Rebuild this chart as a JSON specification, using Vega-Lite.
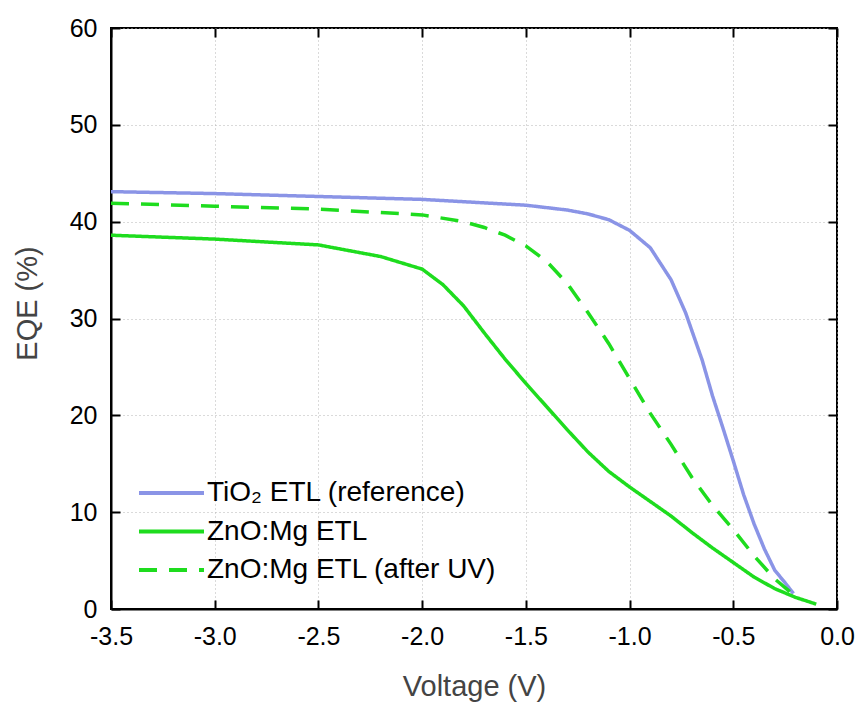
{
  "$schema": "https://vega.github.io/schema/vega-lite/v6.json",
  "width": 726,
  "height": 581,
  "autosize": {"type": "none"},
  "padding": {"left": 111, "top": 28, "right": 22, "bottom": 93},
  "background": "white",
  "config": {
    "font": "Liberation Sans",
    "view": {"stroke": "black", "strokeWidth": 2},
    "axis": {
      "domainColor": "black",
      "domainWidth": 2,
      "tickColor": "black",
      "tickWidth": 2,
      "tickSize": 9,
      "labelColor": "black",
      "labelFont": "Liberation Sans",
      "labelFontSize": 25,
      "titleFont": "Liberation Sans",
      "titleFontSize": 29,
      "titleFontWeight": "normal",
      "titleColor": "#444444",
      "gridColor": "#b5b5b5",
      "gridDash": [1, 3],
      "gridWidth": 1
    }
  },
  "data": {
    "values": [
      {"series": "TiO₂ ETL (reference)", "voltage": -3.5, "eqe": 43.1},
      {"series": "TiO₂ ETL (reference)", "voltage": -3.0, "eqe": 42.9},
      {"series": "TiO₂ ETL (reference)", "voltage": -2.5, "eqe": 42.6},
      {"series": "TiO₂ ETL (reference)", "voltage": -2.0, "eqe": 42.3},
      {"series": "TiO₂ ETL (reference)", "voltage": -1.5, "eqe": 41.7},
      {"series": "TiO₂ ETL (reference)", "voltage": -1.3, "eqe": 41.2},
      {"series": "TiO₂ ETL (reference)", "voltage": -1.2, "eqe": 40.8},
      {"series": "TiO₂ ETL (reference)", "voltage": -1.1, "eqe": 40.2},
      {"series": "TiO₂ ETL (reference)", "voltage": -1.0, "eqe": 39.1},
      {"series": "TiO₂ ETL (reference)", "voltage": -0.9, "eqe": 37.3},
      {"series": "TiO₂ ETL (reference)", "voltage": -0.8, "eqe": 34.0},
      {"series": "TiO₂ ETL (reference)", "voltage": -0.73, "eqe": 30.6},
      {"series": "TiO₂ ETL (reference)", "voltage": -0.65, "eqe": 25.7},
      {"series": "TiO₂ ETL (reference)", "voltage": -0.6, "eqe": 22.0},
      {"series": "TiO₂ ETL (reference)", "voltage": -0.55, "eqe": 18.7},
      {"series": "TiO₂ ETL (reference)", "voltage": -0.5, "eqe": 15.3},
      {"series": "TiO₂ ETL (reference)", "voltage": -0.45, "eqe": 11.8},
      {"series": "TiO₂ ETL (reference)", "voltage": -0.4, "eqe": 8.8},
      {"series": "TiO₂ ETL (reference)", "voltage": -0.35, "eqe": 6.2},
      {"series": "TiO₂ ETL (reference)", "voltage": -0.3, "eqe": 4.0},
      {"series": "TiO₂ ETL (reference)", "voltage": -0.25, "eqe": 2.7},
      {"series": "TiO₂ ETL (reference)", "voltage": -0.21, "eqe": 1.6},
      {"series": "ZnO:Mg ETL", "voltage": -3.5, "eqe": 38.6},
      {"series": "ZnO:Mg ETL", "voltage": -3.0, "eqe": 38.2},
      {"series": "ZnO:Mg ETL", "voltage": -2.5, "eqe": 37.6},
      {"series": "ZnO:Mg ETL", "voltage": -2.2, "eqe": 36.4},
      {"series": "ZnO:Mg ETL", "voltage": -2.0, "eqe": 35.1},
      {"series": "ZnO:Mg ETL", "voltage": -1.9, "eqe": 33.5},
      {"series": "ZnO:Mg ETL", "voltage": -1.8, "eqe": 31.3},
      {"series": "ZnO:Mg ETL", "voltage": -1.7, "eqe": 28.5},
      {"series": "ZnO:Mg ETL", "voltage": -1.6, "eqe": 25.8},
      {"series": "ZnO:Mg ETL", "voltage": -1.5, "eqe": 23.3},
      {"series": "ZnO:Mg ETL", "voltage": -1.4, "eqe": 20.9},
      {"series": "ZnO:Mg ETL", "voltage": -1.3, "eqe": 18.5},
      {"series": "ZnO:Mg ETL", "voltage": -1.2, "eqe": 16.2},
      {"series": "ZnO:Mg ETL", "voltage": -1.1, "eqe": 14.2},
      {"series": "ZnO:Mg ETL", "voltage": -1.0, "eqe": 12.6},
      {"series": "ZnO:Mg ETL", "voltage": -0.9, "eqe": 11.1},
      {"series": "ZnO:Mg ETL", "voltage": -0.8, "eqe": 9.6},
      {"series": "ZnO:Mg ETL", "voltage": -0.7, "eqe": 7.9},
      {"series": "ZnO:Mg ETL", "voltage": -0.6, "eqe": 6.3},
      {"series": "ZnO:Mg ETL", "voltage": -0.5, "eqe": 4.8},
      {"series": "ZnO:Mg ETL", "voltage": -0.4, "eqe": 3.3},
      {"series": "ZnO:Mg ETL", "voltage": -0.3, "eqe": 2.1},
      {"series": "ZnO:Mg ETL", "voltage": -0.2, "eqe": 1.2},
      {"series": "ZnO:Mg ETL", "voltage": -0.1, "eqe": 0.5},
      {"series": "ZnO:Mg ETL (after UV)", "voltage": -3.5, "eqe": 41.9},
      {"series": "ZnO:Mg ETL (after UV)", "voltage": -3.0, "eqe": 41.6},
      {"series": "ZnO:Mg ETL (after UV)", "voltage": -2.5, "eqe": 41.3},
      {"series": "ZnO:Mg ETL (after UV)", "voltage": -2.0, "eqe": 40.7},
      {"series": "ZnO:Mg ETL (after UV)", "voltage": -1.8, "eqe": 40.0},
      {"series": "ZnO:Mg ETL (after UV)", "voltage": -1.7, "eqe": 39.4},
      {"series": "ZnO:Mg ETL (after UV)", "voltage": -1.6, "eqe": 38.6},
      {"series": "ZnO:Mg ETL (after UV)", "voltage": -1.5, "eqe": 37.5},
      {"series": "ZnO:Mg ETL (after UV)", "voltage": -1.4, "eqe": 35.9},
      {"series": "ZnO:Mg ETL (after UV)", "voltage": -1.3, "eqe": 33.6},
      {"series": "ZnO:Mg ETL (after UV)", "voltage": -1.2, "eqe": 30.6},
      {"series": "ZnO:Mg ETL (after UV)", "voltage": -1.1, "eqe": 27.4},
      {"series": "ZnO:Mg ETL (after UV)", "voltage": -1.0, "eqe": 23.8},
      {"series": "ZnO:Mg ETL (after UV)", "voltage": -0.9, "eqe": 20.2},
      {"series": "ZnO:Mg ETL (after UV)", "voltage": -0.8, "eqe": 17.0},
      {"series": "ZnO:Mg ETL (after UV)", "voltage": -0.7, "eqe": 13.6},
      {"series": "ZnO:Mg ETL (after UV)", "voltage": -0.6, "eqe": 10.7},
      {"series": "ZnO:Mg ETL (after UV)", "voltage": -0.5, "eqe": 8.2},
      {"series": "ZnO:Mg ETL (after UV)", "voltage": -0.4, "eqe": 5.5},
      {"series": "ZnO:Mg ETL (after UV)", "voltage": -0.3, "eqe": 3.1},
      {"series": "ZnO:Mg ETL (after UV)", "voltage": -0.2, "eqe": 1.3}
    ]
  },
  "layer": [
    {
      "mark": {"type": "line", "strokeWidth": 3.5, "strokeCap": "butt"},
      "encoding": {
        "x": {
          "field": "voltage",
          "type": "quantitative",
          "scale": {"domain": [-3.5, 0], "nice": false, "zero": false},
          "axis": {
            "orient": "bottom",
            "title": "Voltage (V)",
            "values": [-3.5, -3.0, -2.5, -2.0, -1.5, -1.0, -0.5, 0],
            "labelExpr": "datum.value < 0 ? '-' + format(-datum.value, '.1f') : format(datum.value, '.1f')",
            "labelFlush": false,
            "labelOverlap": false,
            "ticks": false,
            "labelPadding": 15,
            "grid": true,
            "titleY": 86,
            "titleBaseline": "alphabetic"
          }
        },
        "y": {
          "field": "eqe",
          "type": "quantitative",
          "scale": {"domain": [0, 60], "nice": false},
          "axis": {
            "orient": "left",
            "title": "EQE (%)",
            "values": [0, 10, 20, 30, 40, 50, 60],
            "ticks": false,
            "labelPadding": 14,
            "labelFlush": false,
            "grid": true,
            "titleX": -84,
            "titleY": 275,
            "titleAngle": -90,
            "titleAlign": "center",
            "titleBaseline": "middle"
          }
        },
        "color": {
          "field": "series",
          "type": "nominal",
          "scale": {
            "domain": ["TiO₂ ETL (reference)", "ZnO:Mg ETL", "ZnO:Mg ETL (after UV)"],
            "range": ["#8a94e6", "#1edc1e", "#1edc1e"]
          },
          "legend": {
            "title": null,
            "orient": "none",
            "legendX": 26,
            "legendY": 450,
            "padding": 0,
            "symbolType": "M-1,0H4",
            "symbolSize": 676,
            "symbolStrokeWidth": 4,
            "labelFontSize": 28,
            "labelFont": "Liberation Sans",
            "labelColor": "black",
            "labelOffset": 40,
            "rowPadding": 9.5,
            "labelLimit": 400
          }
        },
        "strokeDash": {
          "field": "series",
          "type": "nominal",
          "scale": {
            "domain": ["TiO₂ ETL (reference)", "ZnO:Mg ETL", "ZnO:Mg ETL (after UV)"],
            "range": [[1, 0], [1, 0], [18, 12]]
          },
          "legend": {
            "title": null,
            "orient": "none",
            "legendX": 26,
            "legendY": 450,
            "padding": 0,
            "symbolType": "M-1,0H4",
            "symbolSize": 676,
            "symbolStrokeWidth": 4,
            "labelFontSize": 28,
            "labelFont": "Liberation Sans",
            "labelColor": "black",
            "labelOffset": 40,
            "rowPadding": 9.5,
            "labelLimit": 400
          }
        }
      }
    },
    {
      "mark": {"type": "point", "opacity": 0},
      "encoding": {
        "x": {
          "field": "voltage",
          "type": "quantitative",
          "scale": {"domain": [-3.5, 0], "nice": false, "zero": false},
          "axis": {
            "orient": "top",
            "offset": -581,
            "title": null,
            "labels": false,
            "grid": false,
            "domain": false,
            "values": [-3.5, -3.0, -2.5, -2.0, -1.5, -1.0, -0.5, 0]
          }
        },
        "y": {
          "field": "eqe",
          "type": "quantitative",
          "scale": {"domain": [0, 60], "nice": false},
          "axis": {
            "orient": "right",
            "offset": -726,
            "title": null,
            "labels": false,
            "grid": false,
            "domain": false,
            "values": [0, 10, 20, 30, 40, 50, 60]
          }
        }
      }
    },
    {
      "mark": {"type": "point", "opacity": 0},
      "encoding": {
        "x": {
          "field": "voltage",
          "type": "quantitative",
          "scale": {"domain": [-3.5, 0], "nice": false, "zero": false},
          "axis": {
            "orient": "bottom",
            "offset": -581,
            "title": null,
            "labels": false,
            "grid": false,
            "domain": false,
            "values": [-3.5, -3.0, -2.5, -2.0, -1.5, -1.0, -0.5, 0]
          }
        },
        "y": {
          "field": "eqe",
          "type": "quantitative",
          "scale": {"domain": [0, 60], "nice": false},
          "axis": {
            "orient": "left",
            "offset": -726,
            "title": null,
            "labels": false,
            "grid": false,
            "domain": false,
            "values": [0, 10, 20, 30, 40, 50, 60]
          }
        }
      }
    }
  ],
  "resolve": {"axis": {"x": "independent", "y": "independent"}}
}
